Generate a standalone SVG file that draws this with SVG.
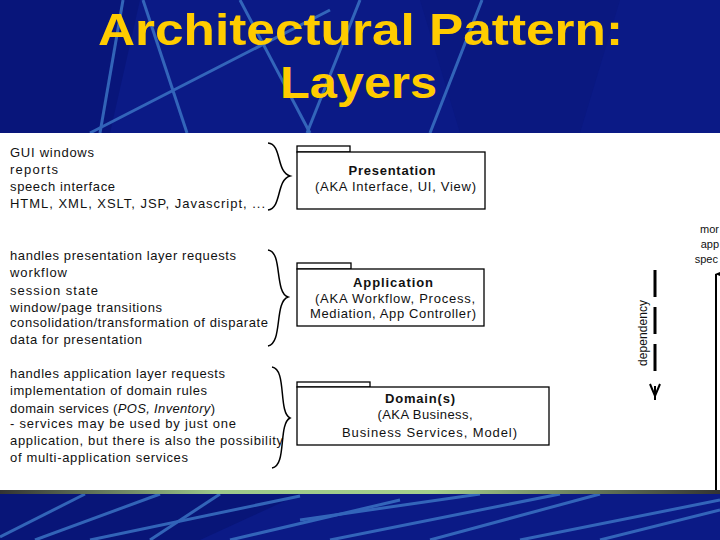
<svg xmlns="http://www.w3.org/2000/svg" width="720" height="540" viewBox="0 0 720 540">
<defs>
<style>
.t{font-family:"Liberation Sans",Arial,sans-serif;font-size:13px;fill:#111}
.b{font-weight:bold}
.c{text-anchor:middle}
.e{text-anchor:end}
.ttl{font-family:"Liberation Sans Narrow","Liberation Sans",Arial,sans-serif;font-weight:bold;font-size:45px;fill:#ffcc00;text-anchor:middle}
.box{fill:#fff;stroke:#000;stroke-width:1.3}
.brace{fill:none;stroke:#000;stroke-width:1.5}
.bg{stroke:#3d78c8;stroke-width:3;fill:none;opacity:0.8}
</style>
<linearGradient id="strip" x1="0" x2="1" y1="0" y2="0">
<stop offset="0" stop-color="#333"/>
<stop offset="0.3" stop-color="#9cc78a"/>
<stop offset="0.6" stop-color="#a4cf8c"/>
<stop offset="1" stop-color="#333"/>
</linearGradient>
<marker id="up" markerWidth="8" markerHeight="10" refX="4" refY="1" orient="auto-start-reverse" markerUnits="userSpaceOnUse" viewBox="0 0 8 10">
<path d="M0,10 L4,0 L8,10 Z" fill="#000"/>
</marker>
</defs>
<rect width="720" height="540" fill="#0b1a86"/>
<polygon points="0,0 140,0 110,133 0,133" fill="#08157a"/>
<polygon points="420,0 620,0 580,133 460,133" fill="#0a1880"/>
<polygon points="0,494 300,494 200,540 0,540" fill="#081578"/>
<g class="bg">
<line x1="90" y1="133" x2="330" y2="10"/>
<line x1="123" y1="0" x2="100" y2="133"/>
<line x1="143" y1="0" x2="187" y2="133"/>
<line x1="240" y1="0" x2="310" y2="133"/>
<line x1="360" y1="0" x2="307" y2="133"/>
<line x1="482" y1="0" x2="430" y2="133"/>
<line x1="0" y1="537" x2="85" y2="494"/>
<line x1="35" y1="540" x2="160" y2="494"/>
<line x1="90" y1="540" x2="300" y2="496"/>
<line x1="150" y1="540" x2="220" y2="494"/>
<line x1="230" y1="540" x2="400" y2="500"/>
<line x1="300" y1="520" x2="480" y2="494"/>
<line x1="330" y1="540" x2="560" y2="494"/>
<line x1="430" y1="540" x2="600" y2="494"/>
<line x1="520" y1="540" x2="720" y2="500"/>
<line x1="600" y1="540" x2="720" y2="510"/>
</g>
<text x="360.5" y="45" class="ttl" textLength="525" lengthAdjust="spacingAndGlyphs">Architectural Pattern:</text>
<text x="358.5" y="98" class="ttl" textLength="157" lengthAdjust="spacingAndGlyphs">Layers</text>
<rect x="0" y="133" width="720" height="357" fill="#fff"/>
<rect x="0" y="490" width="720" height="4" fill="url(#strip)"/>

<g id="notes-presentation">
<text class="t" x="10" y="157" textLength="84">GUI windows</text>
<text class="t" x="10" y="174" textLength="48">reports</text>
<text class="t" x="10" y="191" textLength="105">speech interface</text>
<text class="t" x="10" y="208" textLength="255">HTML, XML, XSLT, JSP, Javascript, ...</text>
<path class="brace" d="M268,143 C282,144 276,172 290,176 C276,180 282,208 268,210"/>
</g>
<g id="notes-application">
<text class="t" x="10" y="260" textLength="226">handles presentation layer requests</text>
<text class="t" x="10" y="277" textLength="57">workflow</text>
<text class="t" x="10" y="295" textLength="88">session state</text>
<text class="t" x="10" y="312" textLength="152">window/page transitions</text>
<text class="t" x="10" y="327" textLength="258">consolidation/transformation of disparate</text>
<text class="t" x="10" y="344" textLength="132">data for presentation</text>
<path class="brace" d="M268,250 C283,252 274,292 288,297 C274,302 283,343 268,346"/>
</g>
<g id="notes-domain">
<text class="t" x="10" y="378" textLength="215">handles application layer requests</text>
<text class="t" x="10" y="395" textLength="197">implementation of domain rules</text>
<text class="t" x="10" y="413" textLength="205">domain services (<tspan font-style="italic">POS, Inventory</tspan>)</text>
<text class="t" x="10" y="428" textLength="226">- services may be used by just one</text>
<text class="t" x="10" y="445" textLength="273">application, but there is also the possibility</text>
<text class="t" x="10" y="462" textLength="178">of multi-application services</text>
<path class="brace" d="M272,367 C287,369 278,412 290,418 C278,424 287,466 272,468"/>
</g>

<g id="presentation">
<rect class="box" x="297" y="146" width="53" height="6"/>
<rect class="box" x="297" y="152" width="188" height="57"/>
<text class="t b c" x="392" y="175" textLength="87">Presentation</text>
<text class="t c" x="395.5" y="191" textLength="161">(AKA Interface, UI, View)</text>
</g>
<g id="application">
<rect class="box" x="297" y="263" width="54" height="6"/>
<rect class="box" x="297" y="269" width="187" height="57"/>
<text class="t b c" x="393" y="287" textLength="80">Application</text>
<text class="t c" x="395" y="303" textLength="160">(AKA Workflow, Process,</text>
<text class="t c" x="393" y="318" textLength="166">Mediation, App Controller)</text>
</g>
<g id="domain">
<rect class="box" x="297" y="382" width="73" height="5"/>
<rect class="box" x="297" y="387" width="252" height="58"/>
<text class="t b c" x="420" y="403" textLength="70">Domain(s)</text>
<text class="t c" x="425" y="419" textLength="95">(AKA Business,</text>
<text class="t c" x="429.5" y="437" textLength="175">Business Services, Model)</text>
</g>

<g id="connectors">
<line x1="655" y1="270" x2="655" y2="378" stroke="#000" stroke-width="3" stroke-dasharray="27,10"/>
<path d="M650,384 L655,396 L660,384 M655,386 L655,400" fill="none" stroke="#000" stroke-width="2"/>
<text class="t" transform="translate(647,333) rotate(-90)" text-anchor="middle" style="font-size:12px" textLength="66">dependency</text>
<line x1="716" y1="490" x2="716" y2="274" stroke="#000" stroke-width="2" marker-end="url(#up)"/>
<text class="t e" x="719" y="233" style="font-size:11px">mor</text>
<text class="t e" x="719" y="248" style="font-size:11px">app</text>
<text class="t e" x="718" y="263" style="font-size:11px">spec</text>
</g>
</svg>
